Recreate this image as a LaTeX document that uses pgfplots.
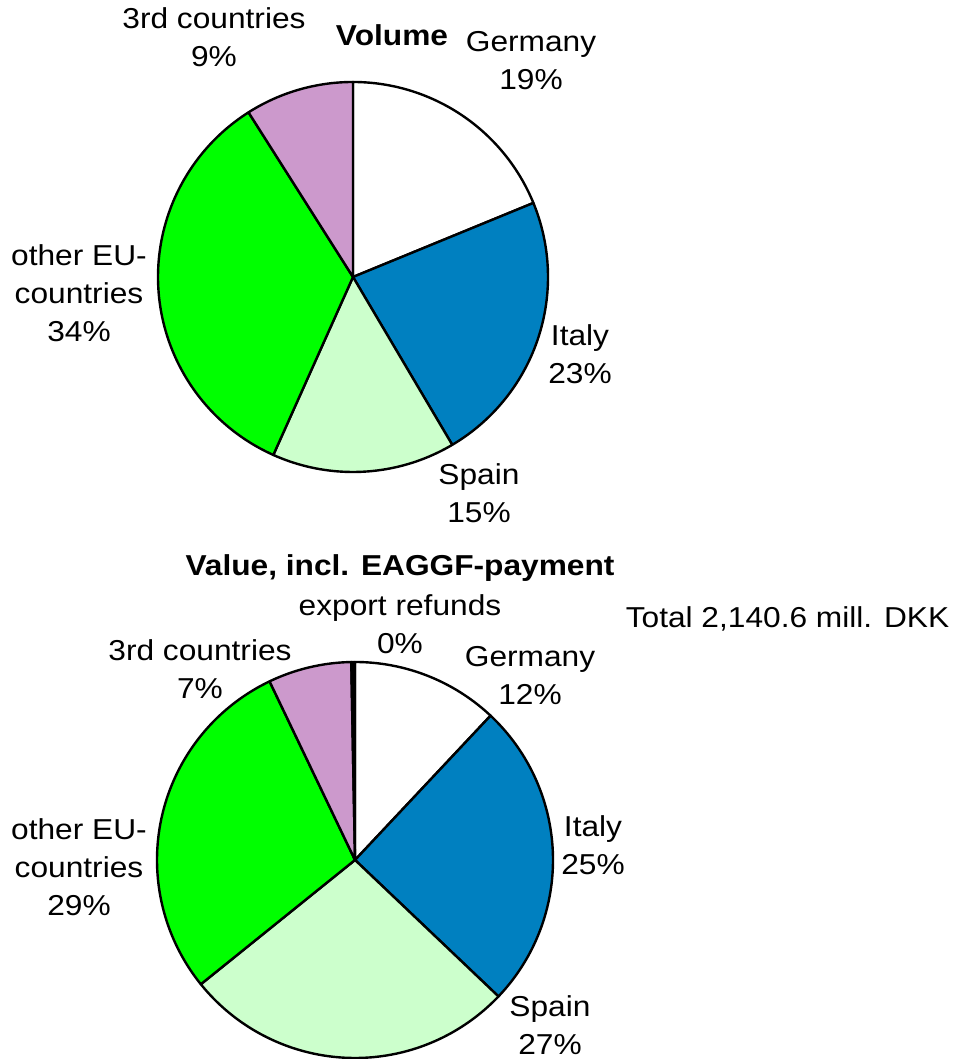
\documentclass[border=0pt]{standalone}
\usepackage{fontspec}
\setmainfont{Liberation Sans}
\usepackage{graphicx}
\usepackage{pgfplots}
\usepackage{pgfplotstable}
\pgfplotsset{compat=1.18}
\definecolor{cGer}{RGB}{255,255,255}
\definecolor{cIta}{RGB}{0,128,192}
\definecolor{cSpa}{RGB}{204,255,204}
\definecolor{cOth}{RGB}{0,255,0}
\definecolor{cThi}{RGB}{204,153,204}
\definecolor{cExp}{RGB}{0,0,0}

% Volume shares (%), clockwise from 12 o'clock
\pgfplotstableread{
name pct col
Germany 18.8 cGer
Italy 22.7 cIta
Spain 15.2 cSpa
otherEU 34.3 cOth
3rd 9.0 cThi
}\volume

% Value shares (%), clockwise from 12 o'clock
\pgfplotstableread{
name pct col
Germany 12.0 cGer
Italy 25.1 cIta
Spain 27.1 cSpa
otherEU 28.7 cOth
3rd 6.8 cThi
export 0.3 cExp
}\valuetab

\newcommand\drawpie[4]{%
  \pgfplotstablegetrowsof{#1}%
  \pgfmathtruncatemacro\nrows{\pgfplotsretval-1}%
  \xdef\curang{90}%
  \pgfplotsforeachungrouped \i in {0,...,\nrows}{%
    \pgfplotstablegetelem{\i}{pct}\of{#1}\let\pct\pgfplotsretval
    \pgfplotstablegetelem{\i}{col}\of{#1}\let\col\pgfplotsretval
    \pgfmathsetmacro\endang{\curang-3.6*\pct}%
    \edef\temp{\noexpand\addplot[fill=\col,draw=black,line width=0.6pt,line join=round,domain=\endang:\curang,samples=100] ({#2+#4*cos(x)},{#3+#4*sin(x)}) -- (#2,#3) -- cycle;}%
    \temp
    \xdef\curang{\endang}%
  }%
}
\newcommand\lb[1]{\scalebox{1.1}[1]{\begin{tabular}{@{}c@{}}#1\end{tabular}}}

\begin{document}
\begin{tikzpicture}[lbl/.style={font=\fontsize{7.2}{9.5}\selectfont, inner sep=0pt},
  ttl/.style={font=\fontsize{7.2}{9.5}\selectfont\bfseries, inner sep=0pt}]
\begin{axis}[
  scale only axis, width=242pt, height=264.75pt,
  xmin=0, xmax=968, ymin=0, ymax=1059,
  hide axis, clip=false,
]
\drawpie{\volume}{353}{782}{195}
\drawpie{\valuetab}{355}{199}{198}

% Volume labels
\node[ttl] at (392,1021) {\lb{Volume}};
\node[lbl] at (214,1019) {\lb{3rd countries\\9\%}};
\node[lbl] at (531,996) {\lb{Germany\\19\%}};
\node[lbl] at (79,763) {\lb{other EU-\\countries\\34\%}};
\node[lbl] at (580,702) {\lb{Italy\\23\%}};
\node[lbl] at (479,563) {\lb{Spain\\15\%}};

% Value labels
\node[ttl] at (400,491) {\lb{Value, incl. EAGGF-payment}};
\node[lbl] at (400,432) {\lb{export refunds\\0\%}};
\node[lbl] at (200,387) {\lb{3rd countries\\7\%}};
\node[lbl] at (530,381) {\lb{Germany\\12\%}};
\node[lbl] at (593,211) {\lb{Italy\\25\%}};
\node[lbl] at (79,189) {\lb{other EU-\\countries\\29\%}};
\node[lbl] at (550,31) {\lb{Spain\\27\%}};
\node[lbl, anchor=west] at (625,439) {\lb{Total 2,140.6 mill. DKK}};
\end{axis}
\pgfresetboundingbox
\path (current axis.south west) rectangle (current axis.north east);
\end{tikzpicture}
\end{document}
